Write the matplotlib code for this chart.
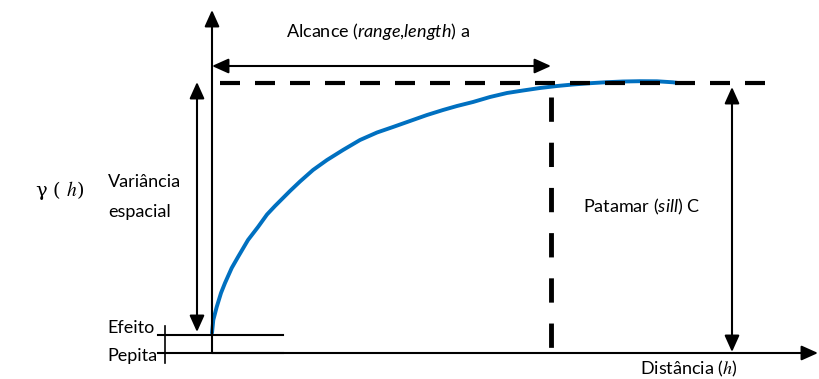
"""Semivariogram sketch: nugget, sill and range annotations."""
import matplotlib
matplotlib.use("Agg")
import matplotlib.pyplot as plt

plt.rcParams["font.family"] = ["Lato", "DejaVu Sans"]
plt.rcParams["mathtext.fontset"] = "custom"
plt.rcParams["mathtext.rm"] = "Lato"
plt.rcParams["mathtext.it"] = "Lato:italic"
plt.rcParams["mathtext.sf"] = "STIXGeneral:italic"

# canvas is laid out in pixel units (y grows downward)
W, H = 819, 379

# key positions of the sketch
Y_AXIS_X = 212
Y_AXIS_TOP = 10
X_AXIS_Y = 353
X_AXIS_END = 818
NUGGET_Y = 335
NUGGET_X = [158, 283]
NUGGET_TICK_X = 165
NUGGET_TICK_Y = [326, 363]
SILL_Y = 83
SILL_X = [220, 768]
RANGE_X = 551
RANGE_TOP = 97
RANGE_ARROW_Y = 66
VAR_ARROW_X = 197
VAR_ARROW_Y = [82, 332]
SILL_ARROW_X = 732
SILL_ARROW_Y = [87, 352]

# fitted semivariogram curve
curve_x = [212, 213.3, 216.7, 221, 225, 231.7, 238, 248, 258, 267, 275, 280,
           290, 300, 313, 327, 343, 360, 377, 393, 410, 427, 443, 457, 473,
           490, 507, 523, 540, 557, 573, 590, 607, 623, 640, 657, 673, 678]
curve_y = [333, 320, 307, 293, 283, 268, 257, 240, 227, 214.5, 206, 201,
           191, 181.5, 170, 160, 150, 140, 132.5, 127, 121, 115, 110, 106, 102,
           97, 93, 90.5, 88, 86, 84.5, 83.2, 82.2, 81.5, 81.2, 81.3, 82.3, 83]

fig = plt.figure(figsize=(W / 100, H / 100), dpi=100)
ax = fig.add_axes([0, 0, 1, 1])
ax.set_xlim(0, W)
ax.set_ylim(H, 0)
ax.axis("off")


def arrow(x0, y0, x1, y1, style="-|>"):
    ax.annotate("", xy=(x1, y1), xytext=(x0, y0),
                arrowprops=dict(arrowstyle=style + ",head_length=1.0,head_width=0.45",
                                color="black", lw=1.5, shrinkA=0, shrinkB=0))


# axes
arrow(Y_AXIS_X, X_AXIS_Y, Y_AXIS_X, Y_AXIS_TOP)
arrow(Y_AXIS_X, X_AXIS_Y, X_AXIS_END, X_AXIS_Y)

# nugget marks
ax.plot(NUGGET_X, [NUGGET_Y, NUGGET_Y], color="black", lw=1.5)
ax.plot(NUGGET_X, [X_AXIS_Y, X_AXIS_Y], color="black", lw=1.5)
ax.plot([NUGGET_TICK_X, NUGGET_TICK_X], NUGGET_TICK_Y, color="black", lw=1.2)

# sill and range dashed guides
ax.plot(SILL_X, [SILL_Y, SILL_Y], color="black", lw=3, dashes=(4.8, 3.6))
ax.plot([RANGE_X, RANGE_X], [RANGE_TOP, X_AXIS_Y], color="black", lw=3.5, dashes=(5, 4.3))

# curve
ax.plot(curve_x, curve_y, color="#0070C0", lw=2.8, solid_capstyle="round",
        solid_joinstyle="round", zorder=1)

# dimension arrows
arrow(Y_AXIS_X, RANGE_ARROW_Y, RANGE_X, RANGE_ARROW_Y, "<|-|>")
arrow(VAR_ARROW_X, VAR_ARROW_Y[1], VAR_ARROW_X, VAR_ARROW_Y[0], "<|-|>")
arrow(SILL_ARROW_X, SILL_ARROW_Y[1], SILL_ARROW_X, SILL_ARROW_Y[0], "<|-|>")

fs = 13
ax.text(286, 32, r"Alcance ($range$,$length$) a", fontsize=fs, va="center", ha="left")
ax.text(108, 182, "Variância", fontsize=fs, va="center", ha="left")
ax.text(108, 212, "espacial", fontsize=fs, va="center", ha="left")
ax.text(35, 190, r"γ ( $\mathsf{h}$)", fontsize=fs + 1, va="center", ha="left",
        family=["DejaVu Serif"])
ax.text(583, 207, r"Patamar ($sill$) C", fontsize=fs, va="center", ha="left")
ax.text(107, 328, "Efeito", fontsize=fs, va="center", ha="left")
ax.text(107, 356, "Pepita", fontsize=fs, va="center", ha="left")
ax.text(640, 369, r"Distância ($\mathsf{h}$)", fontsize=fs, va="center", ha="left")

fig.savefig("out.png", dpi=100)
